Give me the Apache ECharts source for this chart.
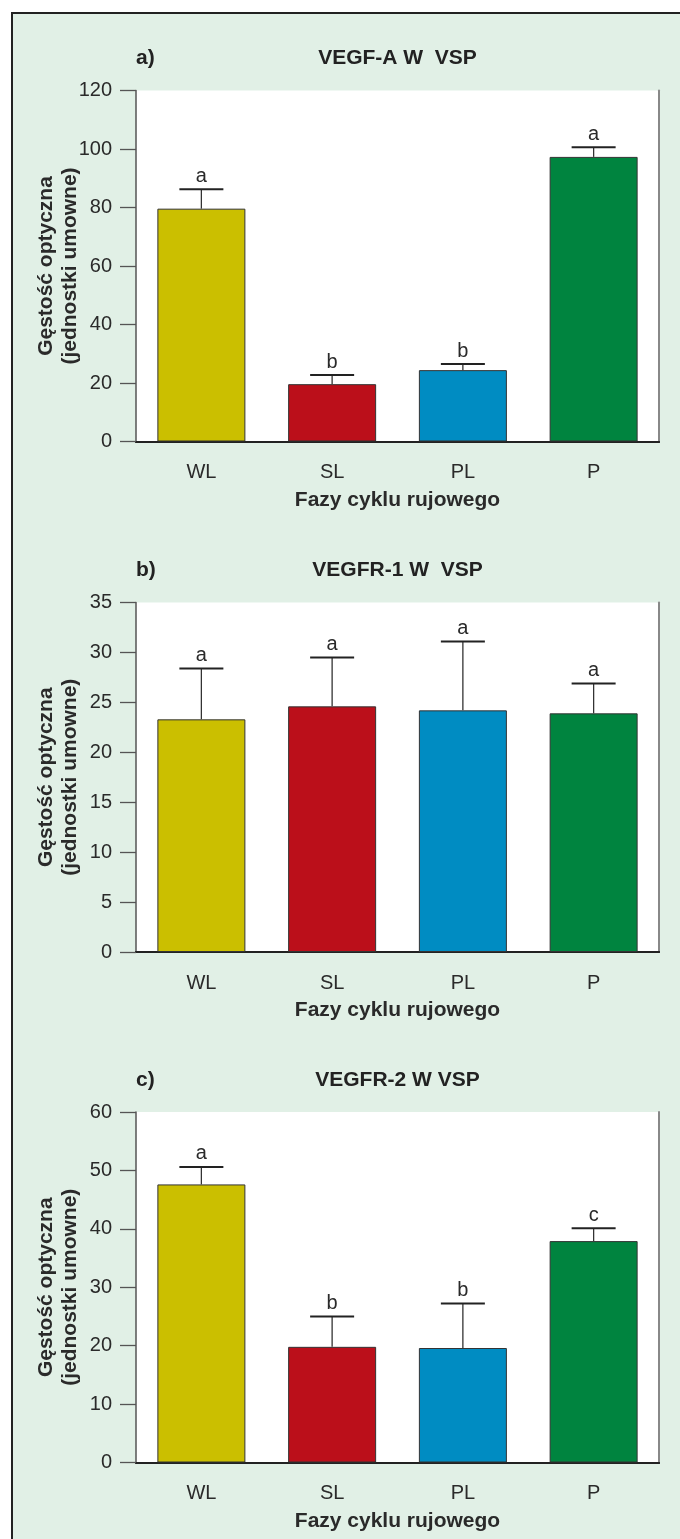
<!DOCTYPE html>
<html><head><meta charset="utf-8">
<script src="https://cdn.jsdelivr.net/npm/echarts@6/dist/echarts.min.js"></script>
<style>html,body{margin:0;padding:0;background:#fff}#c{width:680px;height:1539px}</style>
</head><body><div id="c"></div>
<script>
const categories = ['WL', 'SL', 'PL', 'P'];
const barColors = ['#cbbf00', '#bb0f1a', '#008cc2', '#00843f'];
const panelTags = ['a)', 'b)', 'c)'];
const panelTitles = ['VEGF-A W  VSP', 'VEGFR-1 W  VSP', 'VEGFR-2 W VSP'];
const yMax = [120, 35, 60];
const yStep = [20, 5, 10];
const meansA = [79.6, 19.6, 24.4, 97.3];
const errTopA = [86.2, 22.7, 26.5, 100.6];
const lettersA = ['a', 'b', 'b', 'a'];
const meansB = [23.3, 24.6, 24.2, 23.9];
const errTopB = [28.4, 29.5, 31.1, 26.9];
const lettersB = ['a', 'a', 'a', 'a'];
const meansC = [47.6, 19.8, 19.6, 37.9];
const errTopC = [50.6, 25.0, 27.2, 40.1];
const lettersC = ['a', 'b', 'b', 'c'];
const xTitle = 'Fazy cyklu rujowego';
const yTitle = 'Gęstość optyczna\n(jednostki umowne)';

const means = [meansA, meansB, meansC];
const errTops = [errTopA, errTopB, errTopC];
const letters = [lettersA, lettersB, lettersC];

const FONT = '"Liberation Sans", Arial, Helvetica, sans-serif';
const gridTop = [90.5, 602.5, 1112];
const gridH = [351, 349.5, 350.5];
const gridLeft = 136, gridW = 523;

const chart = echarts.init(document.getElementById('c'), null, {renderer: 'canvas'});
const grid = [], xAxis = [], yAxis = [], series = [], graphic = [];

graphic.push({type: 'rect', shape: {x: 12, y: 13, width: 700, height: 1560}, style: {fill: '#e1f0e6', stroke: '#222', lineWidth: 2}, z: -10, silent: true});

for (let p = 0; p < 3; p++) {
  grid.push({left: gridLeft, top: gridTop[p], width: gridW, height: gridH[p], show: true, backgroundColor: '#fff', borderWidth: 0});
  xAxis.push({
    type: 'category', gridIndex: p, data: categories, position: 'bottom',
    axisLine: {lineStyle: {color: '#222', width: 2}},
    axisTick: {alignWithLabel: true, length: 16, lineStyle: {color: '#333', width: 1.3}},
    axisLabel: {fontFamily: FONT, fontSize: 20, color: '#2a2a2a', margin: 21},
    name: xTitle, nameLocation: 'middle', nameGap: 48,
    nameTextStyle: {fontFamily: FONT, fontSize: 21, fontWeight: 'bold', color: '#2a2a2a'}
  });
  xAxis.push({
    type: 'category', gridIndex: p, data: categories, position: 'top',
    axisLine: {lineStyle: {color: '#222', width: 2}}, axisTick: {show: false}, axisLabel: {show: false}
  });
  yAxis.push({
    type: 'value', gridIndex: p, min: 0, max: yMax[p], interval: yStep[p], position: 'left',
    splitLine: {show: false},
    axisLine: {show: true, lineStyle: {color: '#555', width: 1.5}},
    axisTick: {show: true, length: 16, lineStyle: {color: '#555', width: 1.3}},
    axisLabel: {fontFamily: FONT, fontSize: 20, color: '#2a2a2a', margin: 24}
  });
  yAxis.push({
    type: 'value', gridIndex: p, min: 0, max: yMax[p], interval: yStep[p], position: 'right',
    splitLine: {show: false}, axisLine: {show: true, lineStyle: {color: '#888', width: 2}},
    axisTick: {show: false}, axisLabel: {show: false}
  });
  series.push({
    type: 'bar', xAxisIndex: 2 * p, yAxisIndex: 2 * p, barWidth: 88,
    data: means[p].map((v, i) => ({value: v, itemStyle: {color: barColors[i]}})),
    itemStyle: {borderColor: '#333', borderWidth: 1}, silent: true, animation: false
  });
  const lt = letters[p];
  series.push({
    type: 'custom', xAxisIndex: 2 * p, yAxisIndex: 2 * p, silent: true, animation: false,
    data: means[p].map((v, i) => [i, v, errTops[p][i]]),
    encode: {x: 0, y: [1, 2]},
    renderItem: function (params, api) {
      const i = api.value(0);
      const p0 = api.coord([i, api.value(1)]);
      const p1 = api.coord([i, api.value(2)]);
      return {type: 'group', children: [
        {type: 'line', shape: {x1: p0[0], y1: p0[1], x2: p1[0], y2: p1[1]}, style: {stroke: '#333', lineWidth: 1.3}},
        {type: 'line', shape: {x1: p1[0] - 22, y1: p1[1], x2: p1[0] + 22, y2: p1[1]}, style: {stroke: '#222', lineWidth: 2}},
        {type: 'text', x: p1[0], y: p1[1] - 3, style: {text: lt[params.dataIndex], fill: '#2a2a2a', font: '20px ' + FONT, align: 'center', verticalAlign: 'bottom'}}
      ]};
    }
  });
  graphic.push({type: 'text', x: gridLeft, y: gridTop[p] - 32, style: {text: panelTags[p], font: 'bold 21px ' + FONT, fill: '#222', verticalAlign: 'middle'}});
  graphic.push({type: 'text', x: gridLeft + gridW / 2, y: gridTop[p] - 32, style: {text: panelTitles[p], font: 'bold 21px ' + FONT, fill: '#222', align: 'center', verticalAlign: 'middle'}});
  graphic.push({type: 'text', x: 58, y: gridTop[p] + gridH[p] / 2, rotation: Math.PI / 2,
    style: {text: yTitle, font: 'bold 21px ' + FONT, lineHeight: 24, fill: '#2a2a2a', align: 'center', verticalAlign: 'middle'}});
}

chart.setOption({backgroundColor: '#fff', animation: false, grid, xAxis, yAxis, series, graphic});
</script></body></html>
